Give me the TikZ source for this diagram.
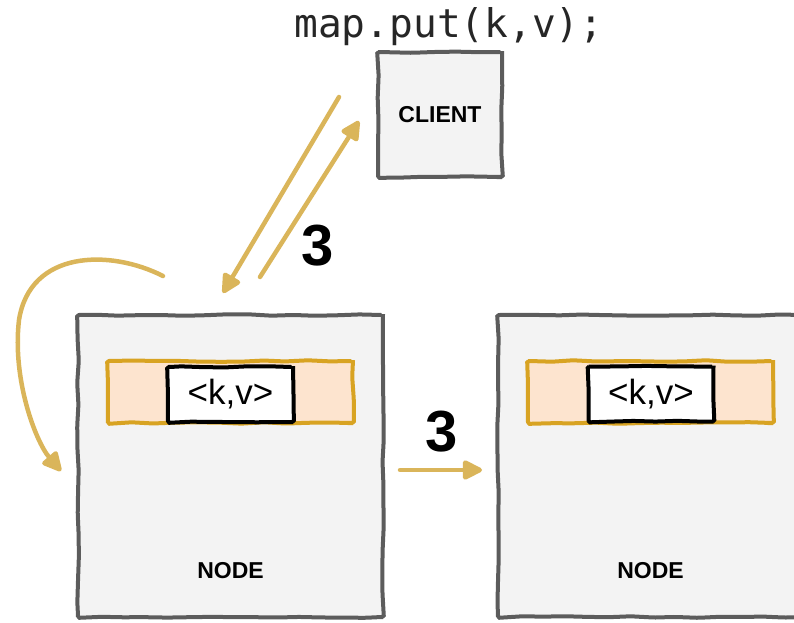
\documentclass[tikz,border=0pt]{standalone}
\usepackage{fontspec}
\setmainfont{Liberation Sans}
\newfontfamily\codefont{DejaVu Sans Mono}
\usetikzlibrary{arrows.meta,decorations.pathmorphing}

\definecolor{boxfill}{HTML}{F3F3F3}
\definecolor{boxedge}{HTML}{5C5C5C}
\definecolor{barfill}{HTML}{FDE4CF}
\definecolor{baredge}{HTML}{D8A322}
\definecolor{flowgold}{HTML}{DAB55A}

\tikzset{
  sketchy/.style={decorate, decoration={random steps, segment length=22pt, amplitude=0.8pt}, rounded corners=1.5pt},
  machine/.style={rectangle, sketchy, draw=boxedge, fill=boxfill, line width=4pt, inner sep=0pt},
  bucket/.style={rectangle, sketchy, draw=baredge, fill=barfill, line width=4pt,
                 minimum width=245pt, minimum height=62pt, inner sep=0pt},
  entry/.style={rectangle, sketchy, draw=black, fill=white, line width=4pt,
                minimum width=125pt, minimum height=55pt, inner sep=0pt,
                font=\fontsize{35}{40}\selectfont},
  caption/.style={font=\fontsize{23}{26}\selectfont\bfseries, inner sep=0pt},
  stepno/.style={font=\fontsize{58}{64}\selectfont\bfseries, inner sep=0pt},
  flow/.style={draw=flowgold, line width=4.5pt, line cap=round,
               -{Triangle[length=22pt,width=21pt,round]}}
}

\begin{document}
\begin{tikzpicture}[x=1pt, y=-1pt]
\pgfmathsetseed{7}
\clip (0,0) rectangle (794,622);

% call issued by the client
\node[font=\fontsize{39.5}{44}\codefont, text=black!85, anchor=base, inner sep=0pt] (call) at (449,37) {map.put(k,v);};

% client
\node[machine, minimum width=124pt, minimum height=125pt, font=\fontsize{23}{26}\selectfont\bfseries] (client) at (440,114.5) {CLIENT};

% the two cluster nodes
\node[machine, minimum width=305pt, minimum height=302pt] (nodeA) at (230.5,466) {};
\node[machine, minimum width=305pt, minimum height=302pt] (nodeB) at (650.5,466) {};

% partition bars holding the entry
\node[bucket] (barA) at (230.5,392) {};
\node[entry] (kvA) at (230.5,394.5) {<k,v>};
\node[bucket] (barB) at (650.5,392) {};
\node[entry] (kvB) at (651,394) {<k,v>};

\node[caption] (labelA) at (230.5,571) {NODE};
\node[caption] (labelB) at (650.5,571) {NODE};

% step numbers
\node[stepno] (stepUp) at (318,246) {3};
\node[stepno] (stepRight) at (442,432) {3};

% arrow end points
\coordinate (replyFrom) at (339,97);
\coordinate (replyTo) at (223,293);
\coordinate (sendFrom) at (260,277);
\coordinate (sendTo) at (359,121);
\coordinate (loopFrom) at (163,276);
\coordinate (loopMid) at (19,320);
\coordinate (loopTo) at (61,471);
\coordinate (copyFrom) at (400,470);
\coordinate (copyTo) at (482,470);

\draw[flow] (replyFrom) -- (replyTo);
\draw[flow] (sendFrom) -- (sendTo);
\draw[flow] (loopFrom) .. controls (110,249) and (30,250) .. (loopMid)
                       .. controls (12,380) and (36,442) .. (loopTo);
\draw[flow] (copyFrom) -- (copyTo);
\end{tikzpicture}
\end{document}
